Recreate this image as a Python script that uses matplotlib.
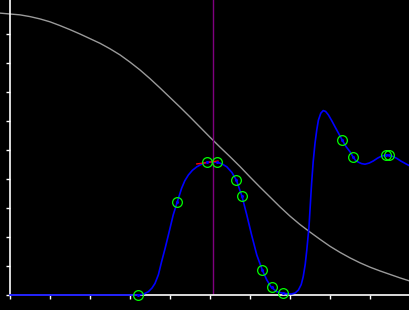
import matplotlib
matplotlib.use("Agg")
import matplotlib.pyplot as plt

# Blue curve (data units)
blue_x = [0, 3.21, 3.34, 3.46, 3.55, 3.625, 3.71, 3.79, 3.88, 3.96, 4.08, 4.18, 4.29, 4.37,
          4.46, 4.56, 4.67, 4.80, 4.925, 5.05, 5.18, 5.30, 5.42, 5.55, 5.66, 5.80, 5.92, 6.04,
          6.17, 6.31, 6.42, 6.53, 6.67, 6.83, 6.94, 7.04, 7.13, 7.21, 7.28, 7.33, 7.38, 7.42,
          7.475, 7.54, 7.58, 7.625, 7.67, 7.71, 7.77, 7.83, 7.89, 7.96, 8.04, 8.125, 8.22, 8.31,
          8.4, 8.5, 8.58, 8.64, 8.71, 8.79, 8.875, 8.98, 9.08, 9.19, 9.29, 9.43, 9.55, 9.67,
          9.77, 9.875, 10]
blue_y = [0, 0, 0.03, 0.114, 0.24, 0.40, 0.70, 1.15, 1.62, 2.07, 2.76, 3.20, 3.68, 3.94,
          4.14, 4.30, 4.42, 4.52, 4.58, 4.59, 4.58, 4.52, 4.42, 4.22, 3.96, 3.40, 2.76, 2.07,
          1.38, 0.85, 0.52, 0.27, 0.114, 0.06, 0.04, 0.035, 0.07, 0.17, 0.36, 0.63, 1.05, 1.55,
          2.36, 3.85, 4.60, 5.23, 5.70, 6.03, 6.27, 6.36, 6.33, 6.21, 6.02, 5.80, 5.56, 5.33,
          5.12, 4.94, 4.75, 4.64, 4.58, 4.53, 4.51, 4.55, 4.62, 4.72, 4.79, 4.83, 4.79, 4.71,
          4.62, 4.54, 4.45]

# Sample points (green circles)
pts_x = [3.21, 4.18, 4.93, 5.18, 5.66, 5.81, 6.31, 6.54, 6.83, 8.31, 8.58, 9.39, 9.47]
pts_y = [0.0, 3.20, 4.58, 4.58, 3.96, 3.40, 0.85, 0.27, 0.06, 5.33, 4.75, 4.83, 4.83]

# Gray reference curve
gray_x = [-0.25, 0, 0.25, 0.5, 0.75, 1.0, 1.25, 1.5, 1.75, 2.0, 2.25, 2.5, 2.75, 3.0, 3.25,
          3.5, 3.75, 4.0, 4.25, 4.5, 4.75, 5.0, 5.25, 5.5, 5.75, 6.0, 6.25, 6.5, 6.75, 7.0,
          7.25, 7.5, 7.75, 8.0, 8.25, 8.5, 8.75, 9.0, 9.25, 9.5, 9.75, 10]
gray_y = [9.72, 9.69, 9.66, 9.60, 9.52, 9.42, 9.29, 9.15, 9.00, 8.84, 8.68, 8.49, 8.28, 8.03,
          7.76, 7.46, 7.14, 6.81, 6.48, 6.14, 5.79, 5.44, 5.10, 4.77, 4.43, 4.07, 3.72, 3.38,
          3.04, 2.72, 2.43, 2.17, 1.92, 1.68, 1.47, 1.28, 1.11, 0.96, 0.83, 0.71, 0.59, 0.48]

# Cursor line and tangent segment
cursor_x = 5.08
red_x = [4.67, 5.2]
red_y = [4.52, 4.62]

x_ticks = list(range(0, 11))
y_ticks = list(range(0, 10))

fig = plt.figure(figsize=(4.1, 3.1), dpi=100, facecolor="black")
ax = fig.add_axes([10 / 410, 15 / 310, 400 / 410, 295 / 310])
ax.set_facecolor("black")
ax.set_xlim(0, 10)
ax.set_ylim(0, 295 / 29)

ax.plot(gray_x, gray_y, color="#9a9a9a", lw=1.0, clip_on=False, zorder=2)
ax.axvline(cursor_x, color="#800080", lw=1.0, zorder=2)
ax.plot(blue_x, blue_y, color="#0000ff", lw=1.2, clip_on=False, zorder=3)
ax.plot(red_x, red_y, color="#ff0000", lw=1.0, zorder=4)
ax.plot(pts_x, pts_y, linestyle="none", marker="o", markersize=7, markerfacecolor="none",
        markeredgecolor="#00ff00", markeredgewidth=0.9, clip_on=False, zorder=5)
ax.plot(pts_x, pts_y, linestyle="none", marker="o", markersize=1.2, markerfacecolor="#0000ff",
        markeredgecolor="#0000ff", clip_on=False, zorder=6)

for s in ["top", "right"]:
    ax.spines[s].set_visible(False)
for s in ["left", "bottom"]:
    ax.spines[s].set_color("white")
    ax.spines[s].set_linewidth(1.2)

ax.set_xticks(x_ticks)
ax.set_yticks(y_ticks)
ax.tick_params(colors="white", length=3, width=1, labelleft=False, labelbottom=False)

fig.savefig("out.png", dpi=100, facecolor="black")
